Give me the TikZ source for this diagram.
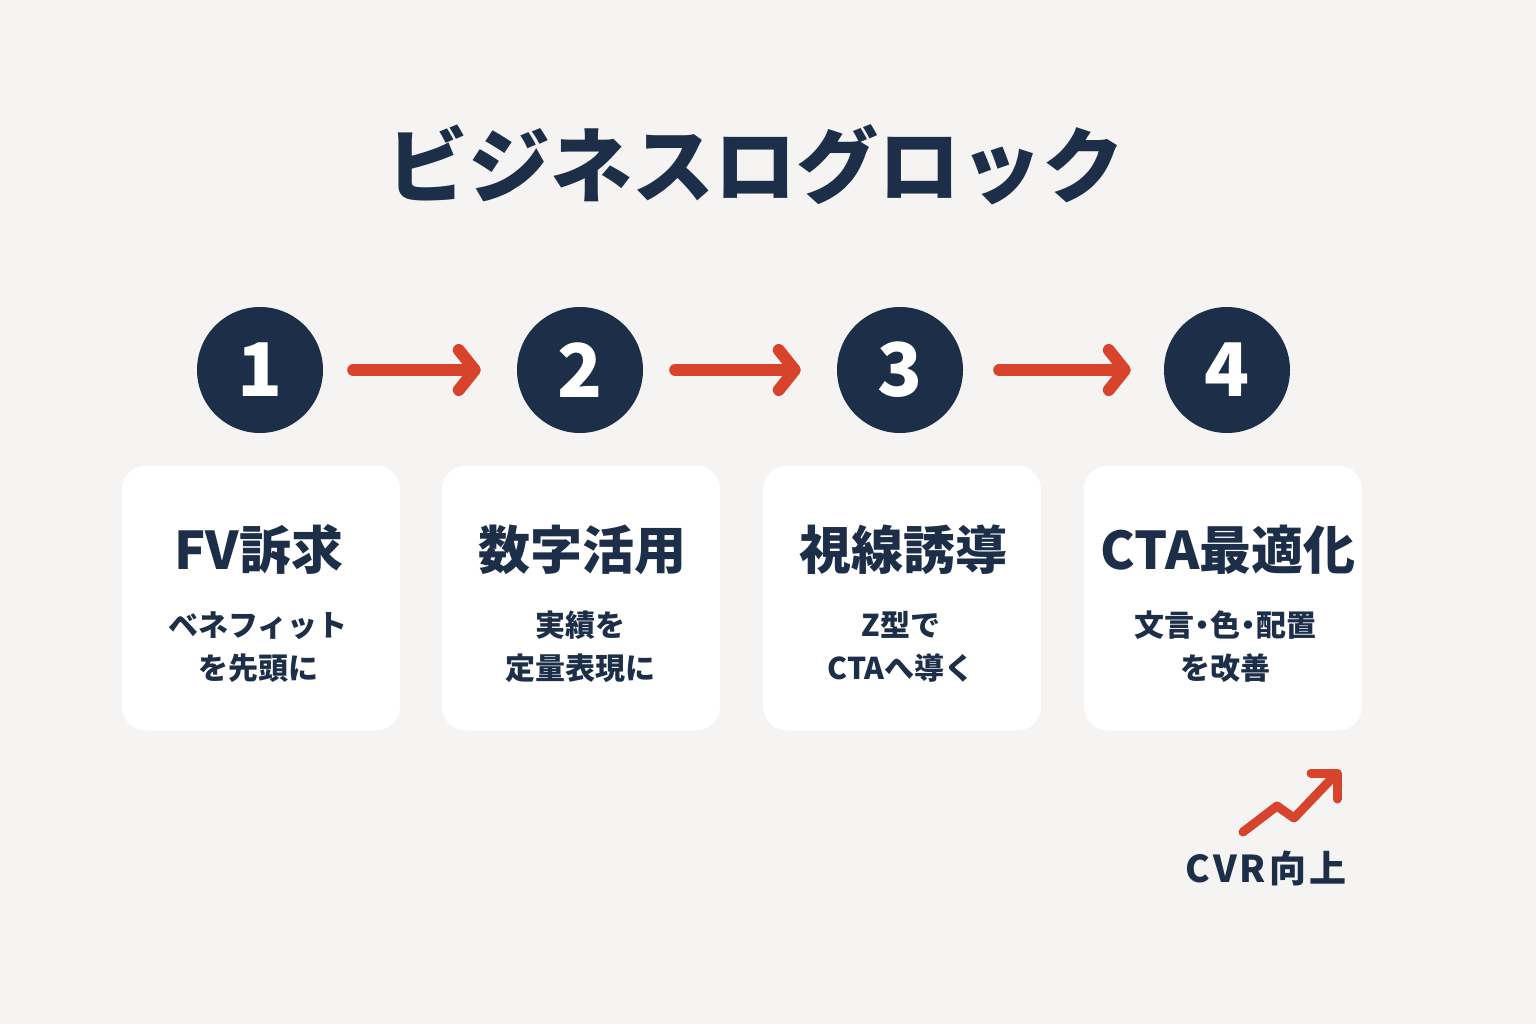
\documentclass[tikz,border=0pt]{standalone}
\usepackage{fontspec}
\setmainfont{Noto Sans CJK JP}
\usetikzlibrary{arrows.meta}
\definecolor{navy}{HTML}{1C2E48}
\definecolor{redc}{HTML}{D8432C}
\definecolor{bgc}{HTML}{F5F4F2}
\tikzset{
  num/.style={circle, fill=navy, minimum size=126pt, inner sep=0pt, text=white, font=\fontsize{74}{74}\selectfont\bfseries},
  card/.style={rectangle, rounded corners=24pt, fill=white, minimum width=278pt, minimum height=265pt, inner sep=0pt},
  ctitle/.style={text=navy, font=\fontsize{52}{52}\selectfont\bfseries, inner sep=0pt},
  csub/.style={text=navy, font=\fontsize{30}{43}\selectfont\bfseries, align=center, inner sep=0pt},
  flow/.style={draw=redc, line width=12pt, line cap=round, -{Straight Barb[length=16pt, width=40pt, line cap=round, line join=round]}},
}
\newcommand{\tdot}{\kern-7pt・\kern-7pt}
\begin{document}
\begin{tikzpicture}[x=1pt, y=-1pt]
\fill[bgc] (0,0) rectangle (1536,1024);
\useasboundingbox (0,0) rectangle (1536,1024);
\node[text=navy, font=\fontsize{82}{82}\selectfont\bfseries, inner sep=0pt] (title) at (755,165) {ビジネスログロック};

\node[num] (c1) at (260,370) {1};
\node[num] (c2) at (580,370) {2};
\node[num] (c3) at (900,370) {3};
\node[num] (c4) at (1227,370) {4};

\draw[flow, shorten <=30pt, shorten >=36pt] (c1) -- (c2);
\draw[flow, shorten <=32pt, shorten >=36pt] (c2) -- (c3);
\draw[flow, shorten <=36pt, shorten >=33pt] (c3) -- (c4);

\node[card] (k1) at (261,598) {};
\node[card] (k2) at (581,598) {};
\node[card] (k3) at (902,598) {};
\node[card] (k4) at (1223,598) {};

\node[ctitle] (t1) at (259,550) {FV訴求};
\node[ctitle] (t2) at (582,550) {数字活用};
\node[ctitle] (t3) at (903,550) {視線誘導};
\node[ctitle] (t4) at (1228,550) {CTA最適化};

\node[csub] (s1) at (258,647) {ベネフィット\\を先頭に};
\node[csub] (s2) at (580,647) {実績を\\定量表現に};
\node[csub] (s3) at (901,647) {Z型で\\CTAへ導く};
\node[csub] (s4) at (1225,647) {文言\tdot 色\tdot 配置\\を改善};

\coordinate (g0) at (1243,832);
\coordinate (g1) at (1277,806);
\coordinate (g2) at (1294,818);
\coordinate (g3) at (1336,774);
\draw[redc, line width=9pt, line cap=round, line join=round] (g0) -- (g1) -- (g2) -- (g3);
\draw[redc, line width=9pt, line cap=round, line join=round] (1311,773) -- (1337,773) -- (1337,799);
\node[text=navy, font=\fontsize{37}{37}\selectfont\bfseries\addfontfeature{LetterSpace=8}, inner sep=0pt] (cvr) at (1266,868) {CVR向上};
\end{tikzpicture}
\end{document}
